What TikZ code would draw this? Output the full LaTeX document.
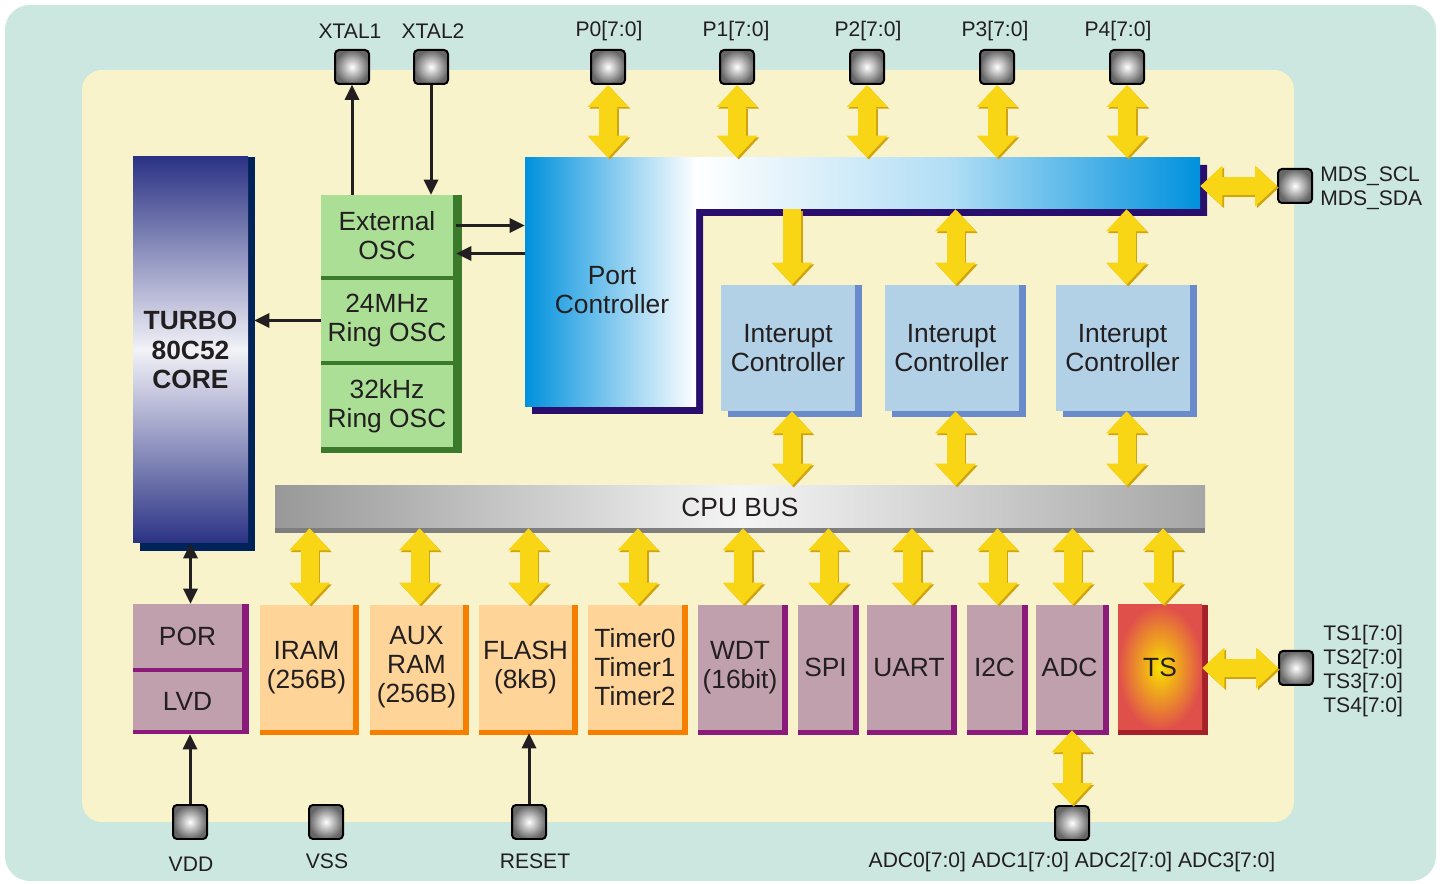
\documentclass[tikz,border=0pt]{standalone}
\usepackage{fontspec}
\setmainfont{Liberation Sans}
\usetikzlibrary{arrows.meta,calc,shadows}

\definecolor{tealbg}{HTML}{CBE7DF}
\definecolor{creambg}{HTML}{F8F3CB}
\definecolor{txt}{HTML}{231F20}
\definecolor{oscgreen}{HTML}{ABDF96}
\definecolor{oscdark}{HTML}{3B7A2A}
\definecolor{icblue}{HTML}{B3D1E6}
\definecolor{icedge}{HTML}{6A8BCB}
\definecolor{memfill}{HTML}{FED499}
\definecolor{memedge}{HTML}{F67F00}
\definecolor{perfill}{HTML}{C0A0AC}
\definecolor{peredge}{HTML}{8B1A7B}
\definecolor{tsyellow}{HTML}{F9E000}
\definecolor{tsred}{HTML}{E0504A}
\definecolor{tsedge}{HTML}{A6202A}
\definecolor{corenavy}{HTML}{2B3284}
\definecolor{corelight}{HTML}{F2F2F8}
\definecolor{coreedge}{HTML}{00235A}
\definecolor{portblue}{HTML}{0091DD}
\definecolor{portedge}{HTML}{2A0E6E}
\definecolor{busgray}{HTML}{989898}
\definecolor{busright}{HTML}{A6A6A6}
\definecolor{busedge}{HTML}{7E7E7E}
\definecolor{yel}{HTML}{F8D515}
\definecolor{ygold}{HTML}{CFA410}

\tikzset{
  sz/.style 2 args={minimum width=#1*0.02cm, minimum height=#2*0.02cm},
  blk/.style={inner sep=0pt, align=center, text=txt, font=\fontsize{15}{16.5}\selectfont},
  lbl/.style={inner sep=0pt, align=center, text=txt, font=\fontsize{12}{13.7}\selectfont},
  edged/.style={general shadow={fill=#1,shadow xshift=0.12cm},
    general shadow={fill=#1,shadow yshift=-0.1cm},
    general shadow={fill=#1,shadow xshift=0.12cm,shadow yshift=-0.1cm}},
  mem/.style={blk, fill=memfill, edged=memedge},
  per/.style={blk, fill=perfill, edged=peredge},
  ctl/.style={blk, fill=icblue, general shadow={fill=icedge,shadow xshift=0.14cm},
    general shadow={fill=icedge,shadow xshift=0.14cm,shadow yshift=-0.12cm}},
  osc/.style={blk, fill=oscgreen},
  padsq/.style={draw=black, line width=0.04cm, rounded corners=0.08cm,
    inner color=white, outer color=black!60, sz={34}{34}, inner sep=0pt},
  wire/.style={draw=txt, line width=0.06cm,
    >={Triangle[length=0.3cm,width=0.3cm,line width=0pt]}},
  fat/.style={draw=yel, line width=0.36cm,
    >={Triangle[length=0.44cm,width=0.82cm,line width=0pt]}}
}

% yellow bus arrow with a darker edge
\newcommand\fatlink[3][<->]{%
  \draw[fat,#1,draw=ygold,transform canvas={shift={(0.035cm,-0.035cm)}}] #2 -- #3;
  \draw[fat,#1] #2 -- #3;}

\begin{document}
\begin{tikzpicture}[x=0.02cm,y=-0.02cm]
\useasboundingbox (0,0) rectangle (1444,884);

% Backgrounds
\fill[tealbg,rounded corners=0.5cm] (5,5) rectangle (1436,881);
\fill[creambg,rounded corners=0.4cm] (82,70) rectangle (1294,822);

% Pads
\node[padsq] (xtal1) at (352,67) {};
\node[padsq] (xtal2) at (431,67) {};
\node[padsq] (p0) at (608,67) {};
\node[padsq] (p1) at (737,67) {};
\node[padsq] (p2) at (867,67) {};
\node[padsq] (p3) at (997,67) {};
\node[padsq] (p4) at (1127,67) {};
\node[padsq] (mds) at (1295,186) {};
\node[padsq] (tsp) at (1296,668) {};
\node[padsq] (adcp) at (1072,823) {};
\node[padsq] (vdd) at (190,822) {};
\node[padsq] (vss) at (326,822) {};
\node[padsq] (rst) at (529,822) {};

% Pad labels
\node[lbl] (lxtal1) at (350,31) {XTAL1};
\node[lbl] (lxtal2) at (433,31) {XTAL2};
\node[lbl] (lp0) at (609,31) {P0[7:0]};
\node[lbl] (lp1) at (736,31) {P1[7:0]};
\node[lbl] (lp2) at (868,31) {P2[7:0]};
\node[lbl] (lp3) at (995,31) {P3[7:0]};
\node[lbl] (lp4) at (1118,31) {P4[7:0]};
\node[lbl,anchor=west,align=left] (lmds) at (1320,188) {MDS\_SCL\\MDS\_SDA};
\node[lbl,anchor=west,align=left] (ltsp) at (1323,671) {TS1[7:0]\\TS2[7:0]\\TS3[7:0]\\TS4[7:0]};
\node[lbl] (ladcp) at (1072,862) {ADC0[7:0] ADC1[7:0] ADC2[7:0] ADC3[7:0]};
\node[lbl] (lvdd) at (191,864) {VDD};
\node[lbl] (lvss) at (327,861) {VSS};
\node[lbl] (lrst) at (535,861) {RESET};

% CPU core
\node[blk, sz={115}{386}, top color=corenavy, bottom color=corenavy, middle color=corelight,
  general shadow={fill=coreedge,shadow xshift=0.14cm},
  general shadow={fill=coreedge,shadow xshift=0.14cm,shadow yshift=-0.16cm},
  font=\fontsize{15}{16.8}\selectfont\bfseries] (core) at (190.5,350) {TURBO\\80C52\\CORE};

% Oscillators
\node[inner sep=0pt, fill=oscdark, sz={141}{258}] (oscbox) at (391.5,324) {};
\node[osc, sz={132}{81}] (ext) at (387,235.5) {External\\OSC};
\node[osc, sz={132}{81}] (r24) at (387,320.5) {24MHz\\Ring OSC};
\node[osc, sz={132}{82}] (r32) at (387,406) {32kHz\\Ring OSC};

% Port controller
\fill[portedge] (532,165) -- (1207,165) -- (1207,216) -- (703,216) -- (703,414) -- (532,414) -- cycle;
\node[inner sep=0pt, sz={171}{249}, left color=portblue, right color=white] (port) at (610.5,282.5) {};
\node[inner sep=0pt, sz={504}{51}, left color=white, right color=portblue, middle color=portblue!30] (portbar) at (948,183.5) {};
\node[blk] (porttxt) at (612,290) {Port\\Controller};

% Interrupt controllers
\node[ctl, sz={134}{126}] (ic1) at (788,348) {Interupt\\Controller};
\node[ctl, sz={134}{126}] (ic2) at (951.5,348) {Interupt\\Controller};
\node[ctl, sz={134}{126}] (ic3) at (1122.5,348) {Interupt\\Controller};

% CPU bus
\node[blk, sz={930}{42}, left color=busgray, right color=busright, middle color=white!96!black,
  general shadow={fill=busedge,shadow yshift=-0.1cm}] (bus) at (740,507) {CPU BUS};

% Peripherals
\node[inner sep=0pt, fill=peredge, sz={116}{130}] (porlvd) at (191,669) {};
\node[blk, fill=perfill, sz={109}{64}] (por) at (187.5,636) {POR};
\node[blk, fill=perfill, sz={109}{58}] (lvd) at (187.5,701) {LVD};
\node[mem, sz={93}{125}] (iram) at (306.5,667.5) {IRAM\\(256B)};
\node[mem, sz={93}{125}] (aux) at (416.5,667.5) {AUX\\RAM\\(256B)};
\node[mem, sz={93}{125}] (flash) at (525.5,667.5) {FLASH\\(8kB)};
\node[mem, sz={94}{125}] (timer) at (635,667.5) {Timer0\\Timer1\\Timer2};
\node[per, sz={84}{125}] (wdt) at (740,667.5) {WDT\\(16bit)};
\node[per, sz={55}{125}] (spi) at (825.5,667.5) {SPI};
\node[per, sz={84}{125}] (uart) at (909,667.5) {UART};
\node[per, sz={55}{125}] (i2c) at (994.5,667.5) {I2C};
\node[per, sz={67}{125}] (adc) at (1069.5,667.5) {ADC};
\node[blk, sz={84}{125}, inner color=tsyellow, outer color=tsred, edged=tsedge] (ts) at (1160,667.5) {TS};

% Clock and power wires
\draw[wire,->] (ext.north -| xtal1) -- (xtal1.south);
\draw[wire,->] (xtal2.south) -- (xtal2 |- ext.north);
\draw[wire,->] ($(ext.east)+(3,-10)$) -- ($(ext.east -| port.west)+(0,-10)$);
\draw[wire,->] ($(ext.east -| port.west)+(0,18)$) -- ($(ext.east)+(3,18)$);
\draw[wire,->] (r24.west) -- ($(r24.west -| core.east)+(6,0)$);
\draw[wire,<->] (core.south) -- (core.south |- porlvd.north);
\draw[wire,->] (vdd.north) -- (vdd.north |- porlvd.south);
\draw[wire,->] (rst.north) -- ($(rst.north |- flash.south)+(0,3)$);

% Port pads
\fatlink{(p0.south)}{(p0.south |- port.north)}
\foreach \p in {p1,p2,p3,p4}{\fatlink{(\p.south)}{(\p.south |- portbar.north)}}
\fatlink{(portbar.east |- mds.west)}{(mds.west)}

% Port controller to interrupt controllers
\fatlink[->]{($(ic1.north |- portbar.south)+(4,0)$)}{($(ic1.north)+(4,0)$)}
\foreach \c in {ic2,ic3}{\fatlink{($(\c.north |- portbar.south)+(4,0)$)}{($(\c.north)+(4,0)$)}}

% Interrupt controllers to CPU bus
\foreach \c in {ic1,ic2,ic3}{\fatlink{($(\c.south)+(4,0)$)}{($(\c.south |- bus.north)+(4,0)$)}}

% CPU bus to peripherals
\foreach \b in {iram,aux,flash,timer,wdt,spi,uart,i2c,adc,ts}{%
  \fatlink{($(\b.north |- bus.south)+(3,0)$)}{($(\b.north)+(3,0)$)}}

% Analog pads
\fatlink{(adcp.north |- adc.south)}{(adcp.north)}
\fatlink{(tsp.west -| ts.east)}{(tsp.west)}
\end{tikzpicture}
\end{document}
